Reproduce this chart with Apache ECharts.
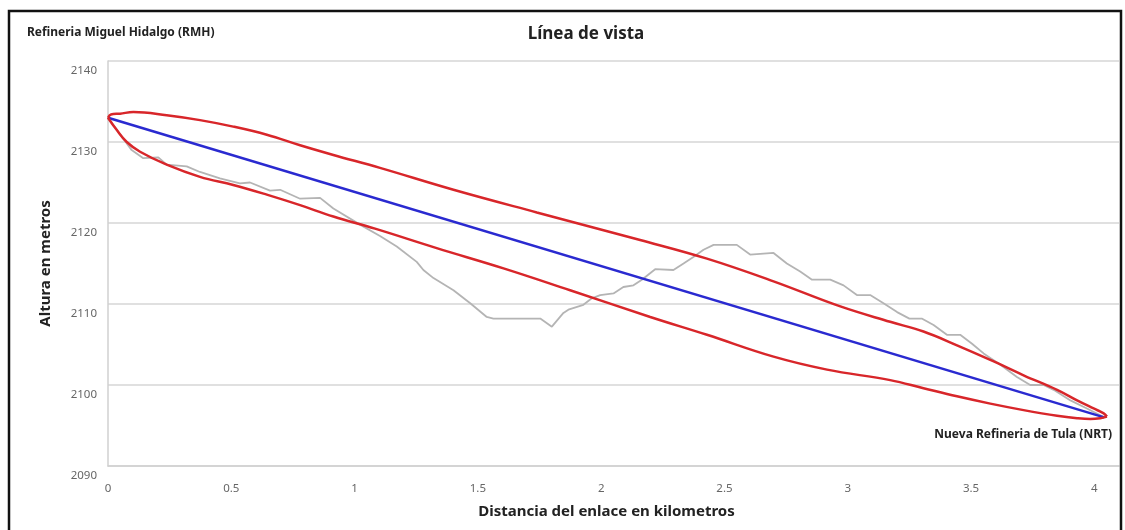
<!DOCTYPE html>
<html>
<head>
<meta charset="utf-8">
<script src="https://cdn.jsdelivr.net/npm/echarts@6/dist/echarts.min.js"></script>
<style>
html,body{margin:0;padding:0;background:#fff;}
#chart{width:1125px;height:530px;}
</style>
</head>
<body>
<div id="chart"></div>
<script>
// Terrain profile (km, m)
var terrainDist = [0, 0.062, 0.096, 0.143, 0.204, 0.238, 0.319, 0.373, 0.454, 0.535, 0.576, 0.657, 0.698, 0.779, 0.860, 0.914, 1.022, 1.103, 1.171, 1.252, 1.279, 1.320, 1.401, 1.469, 1.536, 1.563, 1.753, 1.800, 1.847, 1.867, 1.928, 1.962, 1.996, 2.050, 2.090, 2.131, 2.165, 2.219, 2.293, 2.334, 2.374, 2.415, 2.456, 2.550, 2.604, 2.699, 2.753, 2.807, 2.855, 2.929, 2.983, 3.037, 3.091, 3.145, 3.200, 3.250, 3.300, 3.348, 3.402, 3.456, 3.504, 3.551, 3.619, 3.686, 3.740, 3.794, 3.835, 3.903, 3.970, 4.040];
var terrainAlt  = [2133, 2130.4, 2129.0, 2128.0, 2128.1, 2127.2, 2127.0, 2126.3, 2125.5, 2124.9, 2125.0, 2124.0, 2124.1, 2123.0, 2123.1, 2121.8, 2119.8, 2118.4, 2117.1, 2115.2, 2114.2, 2113.2, 2111.7, 2110.1, 2108.4, 2108.2, 2108.2, 2107.2, 2108.9, 2109.3, 2109.9, 2110.7, 2111.1, 2111.3, 2112.1, 2112.3, 2113.0, 2114.3, 2114.2, 2115.0, 2115.8, 2116.7, 2117.3, 2117.3, 2116.1, 2116.3, 2115.0, 2114.0, 2113.0, 2113.0, 2112.3, 2111.1, 2111.1, 2110.1, 2109.0, 2108.2, 2108.2, 2107.4, 2106.2, 2106.2, 2105.1, 2103.9, 2102.5, 2101.0, 2100.0, 2100.0, 2099.4, 2098.1, 2097.1, 2096.0];

// Line of sight
var losDist = [0, 4.04];
var losAlt  = [2133, 2096];

// Fresnel zone outline
var fresnelUpperDist = [0, 0.012, 0.049, 0.103, 0.238, 0.373, 0.508, 0.644, 0.779, 0.914, 1.103, 1.401, 1.739, 2.158, 2.429, 2.699, 2.970, 3.172, 3.307, 3.443, 3.578, 3.713, 3.849, 3.930, 3.997, 4.038, 4.051];
var fresnelUpperAlt  = [2133.0, 2133.4, 2133.5, 2133.7, 2133.3, 2132.7, 2131.9, 2130.9, 2129.6, 2128.4, 2126.8, 2124.1, 2121.3, 2117.9, 2115.6, 2112.8, 2109.7, 2107.8, 2106.6, 2104.9, 2103.1, 2101.2, 2099.4, 2098.1, 2097.1, 2096.5, 2096.1];
var fresnelLowerDist = [0, 0.035, 0.076, 0.130, 0.238, 0.373, 0.508, 0.644, 0.779, 0.914, 1.083, 1.333, 1.604, 1.874, 2.199, 2.429, 2.699, 2.916, 3.172, 3.307, 3.443, 3.578, 3.713, 3.849, 3.930, 3.984, 4.024, 4.051];
var fresnelLowerAlt  = [2133.0, 2131.5, 2130.0, 2128.8, 2127.2, 2125.7, 2124.7, 2123.5, 2122.2, 2120.8, 2119.3, 2116.9, 2114.4, 2111.7, 2108.4, 2106.2, 2103.5, 2101.9, 2100.6, 2099.6, 2098.6, 2097.7, 2096.9, 2096.2, 2095.9, 2095.8, 2095.9, 2096.1];

// Axis ticks
var xTicks = [0, 0.5, 1, 1.5, 2, 2.5, 3, 3.5, 4];
var yTicks = [2090, 2100, 2110, 2120, 2130, 2140];

function pairs(xs, ys){ return xs.map(function(x,i){ return [x, ys[i]]; }); }

var chart = echarts.init(document.getElementById('chart'), null, {renderer:'canvas'});
var FONT = '"Noto Sans", "DejaVu Sans", sans-serif';
chart.setOption({
  backgroundColor: '#ffffff',
  animation: false,
  textStyle: {fontFamily: FONT},
  grid: {left: 108, right: 6, top: 61, bottom: 64, containLabel: false},
  xAxis: {
    type: 'value', min: 0, max: 4.1, interval: 0.5,
    name: 'Distancia del enlace en kilometros',
    nameLocation: 'middle', nameGap: 38,
    nameTextStyle: {fontSize: 15, fontWeight: 'bold', color: '#222', fontFamily: FONT, padding:[0,14,0,0]},
    axisLine: {show: true, lineStyle: {color: '#d0d0d0', width: 1.5}},
    axisTick: {show: false},
    splitLine: {show: false},
    axisLabel: {
      color: '#666', fontSize: 11.5, margin: 17, showMaxLabel: false, fontFamily: FONT,
      formatter: function(v){ return xTicks.indexOf(+v.toFixed(2)) >= 0 ? String(+v.toFixed(2)) : ''; }
    }
  },
  yAxis: {
    type: 'value', min: 2090, max: 2140, interval: 10,
    name: 'Altura en metros',
    nameLocation: 'middle', nameGap: 55, nameRotate: 90,
    nameTextStyle: {fontSize: 15, fontWeight: 'bold', color: '#222', fontFamily: FONT},
    axisLine: {show: true, lineStyle: {color: '#d0d0d0', width: 1.5}},
    axisTick: {show: false},
    splitLine: {show: true, lineStyle: {color: '#d6d6d6', width: 1.5}},
    axisLabel: {
      color: '#666', fontSize: 11.5, margin: 11, verticalAlign: 'top', padding: [4,0,0,0], fontFamily: FONT,
      formatter: function(v){ return yTicks.indexOf(v) >= 0 ? String(v) : ''; }
    }
  },
  graphic: [
    {type:'rect', silent:true, z:100, shape:{x:9, y:11, width:1112, height:540}, style:{fill:'none', stroke:'#111', lineWidth:2.5}},
    {type:'text', z:100, style:{x:27, y:33, text:'Refineria Miguel Hidalgo (RMH)', font:'bold 12px ' + FONT, fill:'#222', textAlign:'left', textVerticalAlign:'middle'}},
    {type:'text', z:100, style:{x:586, y:34, text:'Línea de vista', font:'bold 17px ' + FONT, fill:'#222', textAlign:'center', textVerticalAlign:'middle'}},
    {type:'text', z:100, style:{x:1112, y:435, text:'Nueva Refineria de Tula (NRT)', font:'bold 12px ' + FONT, fill:'#222', textAlign:'right', textVerticalAlign:'middle'}}
  ],
  series: [
    {
      name: 'Perfil del terreno', type: 'line', data: pairs(terrainDist, terrainAlt),
      showSymbol: false, smooth: false, z: 2,
      lineStyle: {color: '#b4b4b4', width: 1.8}
    },
    {
      name: 'Línea de vista', type: 'line', data: pairs(losDist, losAlt),
      showSymbol: false, z: 3,
      lineStyle: {color: '#2a2ad0', width: 2.5}
    },
    {
      name: 'Zona de Fresnel (superior)', type: 'line', data: pairs(fresnelUpperDist, fresnelUpperAlt),
      showSymbol: false, smooth: 0.4, z: 4,
      lineStyle: {color: '#d8262a', width: 2.5}
    },
    {
      name: 'Zona de Fresnel (inferior)', type: 'line', data: pairs(fresnelLowerDist, fresnelLowerAlt),
      showSymbol: false, smooth: 0.4, z: 4,
      lineStyle: {color: '#d8262a', width: 2.5}
    }
  ]
});
</script>
</body>
</html>
